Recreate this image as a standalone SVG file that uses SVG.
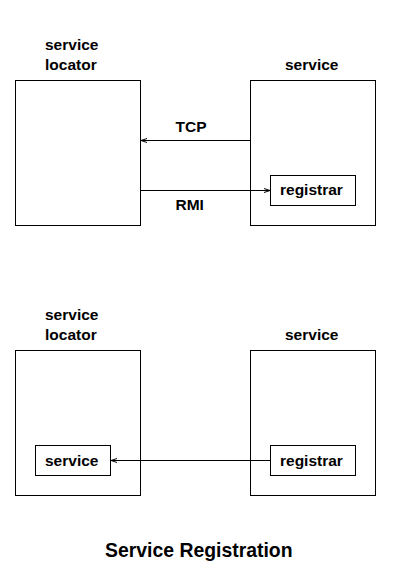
<svg xmlns="http://www.w3.org/2000/svg" width="403" height="580" viewBox="0 0 403 580">
<defs>
<style>
rect{fill:none;stroke:#000;stroke-width:1}
text{font-family:"Liberation Sans",Arial,sans-serif;font-weight:bold;font-size:15.5px;fill:#000}
.c{stroke:#000;stroke-width:1;fill:none}
.t{font-size:19.4px}
</style>
<marker id="ah" markerWidth="8" markerHeight="6" refX="6" refY="3" orient="auto" markerUnits="userSpaceOnUse">
<path d="M0,1 L6,3 L0,5" fill="none" stroke="#000" stroke-width="1"/>
</marker>
</defs>
<rect width="403" height="580" fill="#fff" style="fill:#fff;stroke:none"/>
<g id="locator1"><rect x="15.5" y="80.5" width="125" height="145"/><text x="45" y="50">service</text><text x="45" y="70">locator</text></g>
<g id="service1"><rect x="250.5" y="80.5" width="125" height="145"/><text x="285" y="70">service</text></g>
<g id="registrar1"><rect x="270.5" y="175.5" width="85" height="30"/><text x="280" y="195">registrar</text></g>
<g id="locator2"><rect x="15.5" y="350.5" width="125" height="145"/><text x="45" y="320">service</text><text x="45" y="340">locator</text></g>
<g id="innerservice2"><rect x="35.5" y="445.5" width="75" height="30"/><text x="45" y="466">service</text></g>
<g id="service2"><rect x="250.5" y="350.5" width="125" height="145"/><text x="285" y="340">service</text></g>
<g id="registrar2"><rect x="270.5" y="445.5" width="85" height="30"/><text x="280" y="466">registrar</text></g>
<g id="connectors">
<line class="c" x1="250" y1="140.5" x2="141" y2="140.5" marker-end="url(#ah)"/>
<line class="c" x1="141" y1="190.5" x2="270" y2="190.5" marker-end="url(#ah)"/>
<line class="c" x1="270" y1="460.5" x2="111" y2="460.5" marker-end="url(#ah)"/>
<text x="175.5" y="131.5">TCP</text>
<text x="175.5" y="210">RMI</text>
</g>
<text class="t" x="105" y="557">Service Registration</text>
</svg>
